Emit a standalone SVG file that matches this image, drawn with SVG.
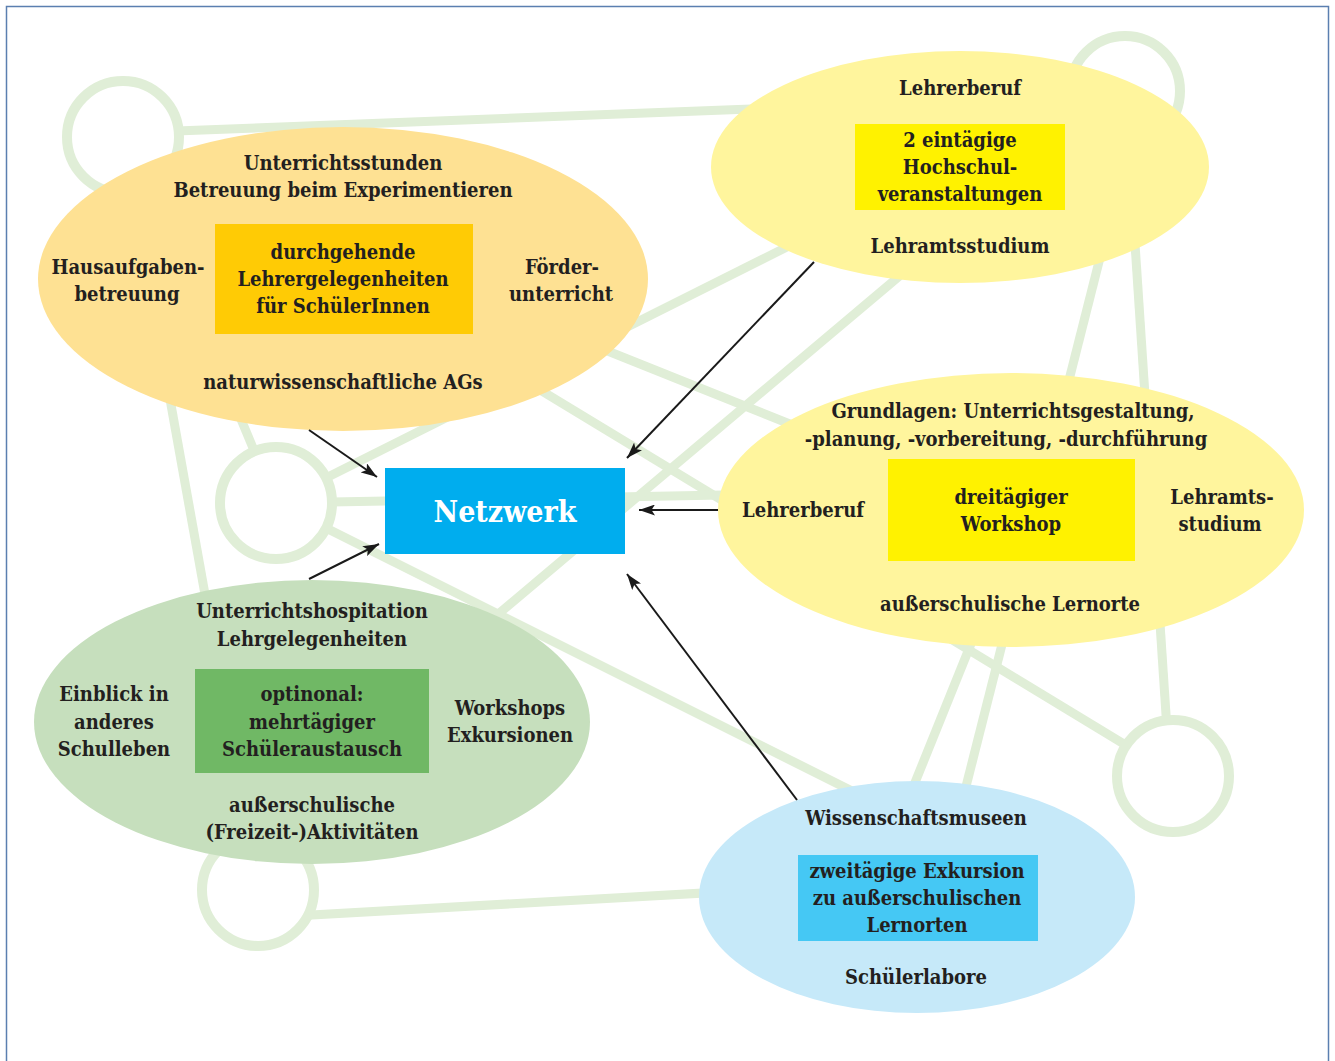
<svg xmlns="http://www.w3.org/2000/svg" width="1335" height="1061" viewBox="0 0 1335 1061">
<defs>
<style>
.bg{stroke:#e0eed7;stroke-width:9;fill:none;stroke-linecap:butt}
.ring{stroke:#e0eed7;stroke-width:10;fill:#ffffff}
.t{font-family:"DejaVu Serif Condensed","DejaVu Serif",serif;font-size:20px;font-weight:bold;fill:#231f20;text-anchor:middle}
.arr{stroke:#1a1a1a;stroke-width:2;fill:none;marker-end:url(#ah)}
</style>
<marker id="ah" viewBox="0 0 16 11" refX="16" refY="5.5" markerWidth="16" markerHeight="11" markerUnits="userSpaceOnUse" orient="auto">
<path d="M0,0 L16,5.5 L0,11 L3.5,5.5 Z" fill="#1a1a1a"/>
</marker>
</defs>
<rect x="0" y="0" width="1335" height="1061" fill="#ffffff"/>
<rect x="6.5" y="6.5" width="1322" height="1080" fill="none" stroke="#5b7fb0" stroke-width="1.5"/>

<g id="background-network">
<line class="bg" x1="123" y1="133" x2="1120" y2="95"/>
<line class="bg" x1="276" y1="503" x2="1120" y2="80"/>
<line class="bg" x1="400" y1="268" x2="1000" y2="508"/>
<line class="bg" x1="123" y1="137" x2="1175" y2="775"/>
<line class="bg" x1="276" y1="503" x2="1011" y2="490"/>
<line class="bg" x1="420" y1="680" x2="960" y2="225"/>
<line class="bg" x1="123" y1="137" x2="276" y2="503"/>
<line class="bg" x1="123" y1="137" x2="258" y2="890"/>
<line class="bg" x1="276" y1="503" x2="900" y2="815"/>
<line class="bg" x1="258" y1="918" x2="900" y2="882"/>
<line class="bg" x1="1125" y1="92" x2="1170" y2="775"/>
<line class="bg" x1="1142" y1="92" x2="938" y2="897"/>
<line class="bg" x1="1025" y1="510" x2="912" y2="790"/>
<circle class="ring" cx="123" cy="137" r="56"/>
<circle class="ring" cx="1125" cy="91" r="55"/>
<circle class="ring" cx="276" cy="503" r="56"/>
<circle class="ring" cx="258" cy="890" r="56"/>
<circle class="ring" cx="1173" cy="776" r="56"/>
</g>

<g id="node-schueler-lehrgelegenheiten">
<ellipse cx="343" cy="279" rx="305" ry="152" fill="#fee193"/>
<rect x="215" y="224" width="258" height="110" fill="#ffcb05"/>
<text class="t" x="343" y="170">Unterrichtsstunden</text>
<text class="t" x="343" y="197">Betreuung beim Experimentieren</text>
<text class="t" x="128" y="274">Hausaufgaben-</text>
<text class="t" x="127" y="301">betreuung</text>
<text class="t" x="343" y="259">durchgehende</text>
<text class="t" x="343" y="286">Lehrergelegenheiten</text>
<text class="t" x="343" y="313">für SchülerInnen</text>
<text class="t" x="562" y="274">Förder-</text>
<text class="t" x="561" y="301">unterricht</text>
<text class="t" x="343" y="389">naturwissenschaftliche AGs</text>
</g>

<g id="node-hochschulveranstaltungen">
<ellipse cx="960" cy="167" rx="249" ry="116" fill="#fff59d"/>
<rect x="855" y="124" width="210" height="86" fill="#fff200"/>
<text class="t" x="960" y="95">Lehrerberuf</text>
<text class="t" x="960" y="147">2 eintägige</text>
<text class="t" x="960" y="174">Hochschul-</text>
<text class="t" x="960" y="201">veranstaltungen</text>
<text class="t" x="960" y="253">Lehramtsstudium</text>
</g>

<g id="node-workshop">
<ellipse cx="1011" cy="510" rx="293" ry="137" fill="#fff59d"/>
<rect x="888" y="459" width="247" height="102" fill="#fff200"/>
<text class="t" x="1013" y="418">Grundlagen: Unterrichtsgestaltung,</text>
<text class="t" x="1006" y="446">-planung, -vorbereitung, -durchführung</text>
<text class="t" x="803" y="517">Lehrerberuf</text>
<text class="t" x="1011" y="504">dreitägiger</text>
<text class="t" x="1011" y="531">Workshop</text>
<text class="t" x="1222" y="504">Lehramts-</text>
<text class="t" x="1220" y="531">studium</text>
<text class="t" x="1010" y="611">außerschulische Lernorte</text>
</g>

<g id="node-schueleraustausch">
<ellipse cx="312" cy="722" rx="278" ry="142" fill="#c6dfbd"/>
<rect x="195" y="669" width="234" height="104" fill="#70b865"/>
<text class="t" x="312" y="618">Unterrichtshospitation</text>
<text class="t" x="312" y="646">Lehrgelegenheiten</text>
<text class="t" x="114" y="701">Einblick in</text>
<text class="t" x="114" y="729">anderes</text>
<text class="t" x="114" y="756">Schulleben</text>
<text class="t" x="312" y="701">optinonal:</text>
<text class="t" x="312" y="729">mehrtägiger</text>
<text class="t" x="312" y="756">Schüleraustausch</text>
<text class="t" x="510" y="715">Workshops</text>
<text class="t" x="510" y="742">Exkursionen</text>
<text class="t" x="312" y="812">außerschulische</text>
<text class="t" x="312" y="839">(Freizeit-)Aktivitäten</text>
</g>

<g id="node-exkursion">
<ellipse cx="917" cy="897" rx="218" ry="116" fill="#c6e9f9"/>
<rect x="798" y="855" width="240" height="86" fill="#45c8f4"/>
<text class="t" x="916" y="825">Wissenschaftsmuseen</text>
<text class="t" x="917" y="878">zweitägige Exkursion</text>
<text class="t" x="917" y="905">zu außerschulischen</text>
<text class="t" x="917" y="932">Lernorten</text>
<text class="t" x="916" y="984">Schülerlabore</text>
</g>

<g id="node-netzwerk">
<rect x="385" y="468" width="240" height="86" fill="#00adee"/>
<text x="505" y="522" font-family="'DejaVu Serif Condensed','DejaVu Serif',serif" font-size="30" font-weight="bold" fill="#ffffff" text-anchor="middle">Netzwerk</text>
</g>

<g id="connectors">
<line class="arr" x1="309" y1="430" x2="377" y2="477"/>
<line class="arr" x1="309" y1="579" x2="379" y2="544"/>
<line class="arr" x1="814" y1="262" x2="627" y2="458"/>
<line class="arr" x1="718" y1="510" x2="639" y2="510"/>
<line class="arr" x1="797" y1="800" x2="627" y2="574"/>
</g>
</svg>
